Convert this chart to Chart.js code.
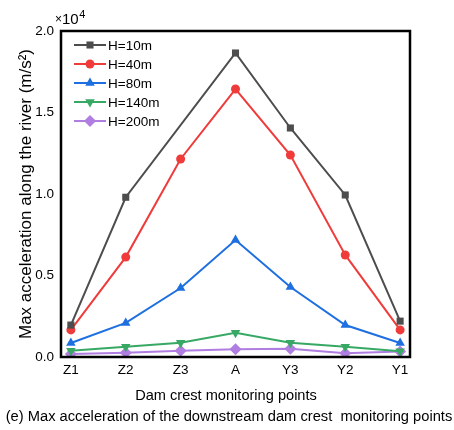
<!DOCTYPE html>
<html>
<head>
<meta charset="utf-8">
<script src="https://cdn.jsdelivr.net/npm/chart.js@4/dist/chart.umd.min.js"></script>
<style>
  body { margin: 0; background: #fff; }
  canvas { display: block; }
</style>
</head>
<body>
<canvas id="chart" width="454" height="430"></canvas>
<script>
    const categories = ["Z1", "Z2", "Z3", "A", "Y3", "Y2", "Y1"];
    const seriesNames = ["H=10m", "H=40m", "H=80m", "H=140m", "H=200m"];
    const h10 = [1960, 9800, null, 18650, 14050, 9940, 2200];
    const h40 = [1660, 6130, 12150, 16440, 12390, 6260, 1660];
    const h80 = [860, 2090, 4230, 7180, 4290, 1960, 860];
    const h140 = [390, 630, 880, 1490, 880, 630, 350];
    const h200 = [180, 260, 390, 470, 510, 230, 330];
    const yTicks = [0, 5000, 10000, 15000, 20000];

    const colors = ["#4d4d4d", "#f03b3b", "#1e6fe0", "#38a865", "#b07de0"];
    const styles = ["rect", "circle", "triangle", "triangle", "rectRot"];
    const rotations = [0, 0, 0, 180, 0];
    const radii = [5, 4.5, 5.5, 5.5, 6];

    function toPoints(arr) {
      return arr.map((v, i) => ({ x: i, y: v }));
    }

    const datasets = [h10, h40, h80, h140, h200].map((arr, i) => ({
      label: seriesNames[i],
      data: toPoints(arr),
      borderColor: colors[i],
      backgroundColor: colors[i],
      borderWidth: 2,
      pointStyle: styles[i],
      rotation: rotations[i],
      pointRadius: radii[i],
      pointBorderWidth: 0,
      spanGaps: true,
      tension: 0
    }));

    const FONT = "'Liberation Sans', Arial, sans-serif";

    // frame, legend inside plot, x title, caption, x10^4
    const extras = {
      id: 'extras',
      afterDatasetsDraw(chart) {
        const { ctx, chartArea: a } = chart;
        ctx.save();
        ctx.strokeStyle = '#000';
        ctx.lineWidth = 2.5;
        ctx.strokeRect(a.left, a.top, a.right - a.left, a.bottom - a.top);

        // legend
        ctx.font = '13.5px ' + FONT;
        ctx.textBaseline = 'middle';
        ctx.textAlign = 'left';
        chart.data.datasets.forEach((ds, i) => {
          const y = 45 + i * 19;
          ctx.strokeStyle = ds.borderColor;
          ctx.lineWidth = 2;
          ctx.beginPath();
          ctx.moveTo(74, y);
          ctx.lineTo(106, y);
          ctx.stroke();
          ctx.fillStyle = ds.backgroundColor;
          Chart.helpers.drawPoint(ctx, {
            pointStyle: ds.pointStyle, rotation: ds.rotation,
            radius: ds.pointRadius, borderWidth: 0
          }, 90, y);
          ctx.fillStyle = '#000';
          ctx.fillText(ds.label, 108, y + 1);
        });

        // x10^4
        ctx.fillStyle = '#000';
        ctx.textBaseline = 'alphabetic';
        ctx.font = '12px ' + FONT;
        ctx.fillText('\u00d7', 55, 23);
        let w = ctx.measureText('\u00d7').width;
        ctx.font = '15px ' + FONT;
        ctx.fillText('10', 55 + w, 24);
        w += ctx.measureText('10').width;
        ctx.font = '11px ' + FONT;
        ctx.fillText('4', 55 + w + 0.5, 18);

        // x title and caption
        ctx.textAlign = 'center';
        ctx.textBaseline = 'middle';
        ctx.font = '14.6px ' + FONT;
        ctx.fillText('Dam crest monitoring points', 226, 396);
        ctx.font = '14.7px ' + FONT;
        ctx.fillText('(e) Max acceleration of the downstream dam crest  monitoring points', 229, 417);
        ctx.restore();
      }
    };

    new Chart(document.getElementById('chart').getContext('2d'), {
      type: 'line',
      data: { datasets },
      options: {
        responsive: false,
        animation: false,
        layout: { padding: { top: 31, right: 44, left: 0, bottom: 0 } },
        plugins: { legend: { display: false }, tooltip: { enabled: false } },
        scales: {
          x: {
            type: 'linear',
            min: -0.18,
            max: 6.18,
            afterFit(scale) { scale.height = 73; },
            afterBuildTicks(scale) {
              scale.ticks = categories.map((c, i) => ({ value: i }));
            },
            grid: { display: false, drawTicks: false },
            border: { display: false },
            ticks: {
              padding: 5,
              color: '#000',
              font: { family: FONT, size: 13.5 },
              maxRotation: 0,
              callback: (v) => categories[v]
            }
          },
          y: {
            min: 0,
            max: 20000,
            afterFit(scale) { scale.width = 61; },
            afterBuildTicks(scale) {
              scale.ticks = yTicks.map(v => ({ value: v }));
            },
            grid: { display: false, drawTicks: false },
            border: { display: false },
            ticks: {
              padding: 7,
              color: '#000',
              font: { family: FONT, size: 13.5 },
              callback: (v) => (v / 10000).toFixed(1)
            },
            title: {
              display: true,
              text: 'Max acceleration along the river (m/s\u00b2)',
              color: '#000',
              font: { family: FONT, size: 17 },
              padding: { top: 16, bottom: 0 }
            }
          }
        }
      },
      plugins: [extras]
    });
</script>
</body>
</html>
